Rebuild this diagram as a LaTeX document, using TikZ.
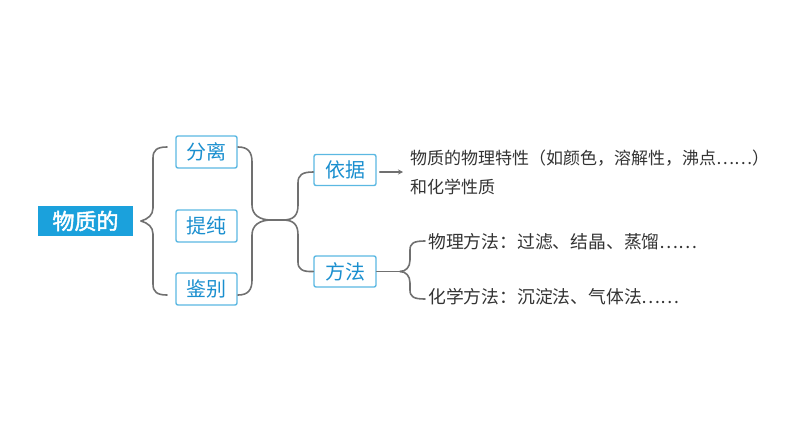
\documentclass[tikz,border=0pt]{standalone}
\usepackage{fontspec}
\newfontfamily\cjk{Noto Sans CJK SC}
\newfontfamily\cjkb{Noto Sans CJK SC}[FakeBold=2]
\usetikzlibrary{arrows.meta}
\definecolor{titleblue}{HTML}{1BA1DC}
\definecolor{boxborder}{HTML}{5BB8E2}
\definecolor{boxtext}{HTML}{1A8FCF}
\definecolor{linegray}{HTML}{707070}
\definecolor{txtgray}{HTML}{333333}
\begin{document}
\begin{tikzpicture}[x=1pt,y=-1pt,
  titlebox/.style={fill=titleblue,text=white,inner sep=0pt,minimum width=95pt,minimum height=30pt,font=\cjkb\fontsize{22}{24}\selectfont},
  itembox/.style={draw=boxborder,line width=1.4pt,rounded corners=2pt,fill=white,text=boxtext,inner sep=0pt,minimum width=61pt,minimum height=32pt,font=\cjk\fontsize{20}{24}\selectfont},
  desc/.style={anchor=west,inner sep=0pt,text=txtgray,font=\cjk\fontsize{17}{20}\selectfont},
  descb/.style={anchor=west,inner sep=0pt,text=txtgray,font=\cjk\fontsize{17.8}{20}\selectfont},
  conn/.style={draw=linegray,line width=1.6pt,line cap=round,line join=round}
]
\useasboundingbox (0,0) rectangle (794,447);

\node[titlebox] (title) at (85.5,221) {物质的};
\node[itembox] (fenli) at (206.5,152) {分离};
\node[itembox] (tichun) at (206.5,226) {提纯};
\node[itembox] (jianbie) at (206.5,289) {鉴别};
\node[itembox,minimum width=62pt,minimum height=31pt] (yiju) at (345,170) {依据};
\node[itembox,minimum width=62pt,minimum height=31pt] (fangfa) at (345,271.5) {方法};

\node[desc] (d1) at (410,158) {物质的物理特性（如颜色，溶解性，沸点……）};
\node[desc] (d2) at (410,187) {和化学性质};
\node[descb] (m1) at (428,242) {物理方法：过滤、结晶、蒸馏……};
\node[descb] (m2) at (428,297) {化学方法：沉淀法、气体法……};

% left brace
\coordinate (lt) at (141,221);
\draw[conn] (167,147) .. controls (157,147) and (153,150) .. (153,158) -- (153,208) .. controls (153,215) and (148,219) .. (lt);
\draw[conn] (167,295) .. controls (157,295) and (153,292) .. (153,284) -- (153,234) .. controls (153,227) and (148,223) .. (lt);

% middle double brace
\coordinate (mt1) at (271,220);
\coordinate (mt2) at (283,220);
\draw[conn] (238,147) .. controls (248,147) and (252,152) .. (252,162) -- (252,205) .. controls (252,215) and (260,220) .. (mt1);
\draw[conn] (238,295) .. controls (248,295) and (252,290) .. (252,280) -- (252,235) .. controls (252,225) and (260,220) .. (mt1);
\draw[conn] (mt1) -- (mt2);
\draw[conn] (mt2) .. controls (294,220) and (298,215) .. (298,205) -- (298,183) .. controls (298,175) and (302,172) .. (yiju.west |- 0,172);
\draw[conn] (mt2) .. controls (294,220) and (298,225) .. (298,235) -- (298,262) .. controls (298,269) and (302,272) .. (fangfa.west);

% arrow
\coordinate (aend) at (403,172);
\draw[conn,line width=1.3pt,-{Stealth[length=5pt,width=5pt]}] (yiju.east |- 0,172) ++(3,0) -- (aend);

% right brace for methods
\coordinate (rt) at (400,271.5);
\draw[conn] (fangfa.east) -- (rt);
\draw[conn] (rt) .. controls (406,271.5) and (410,267) .. (410,260) -- (410,250) .. controls (410,243) and (414,241) .. (425,241);
\draw[conn] (rt) .. controls (406,271.5) and (410,276) .. (410,283) -- (410,290) .. controls (410,297) and (414,299) .. (425,299);
\end{tikzpicture}
\end{document}
